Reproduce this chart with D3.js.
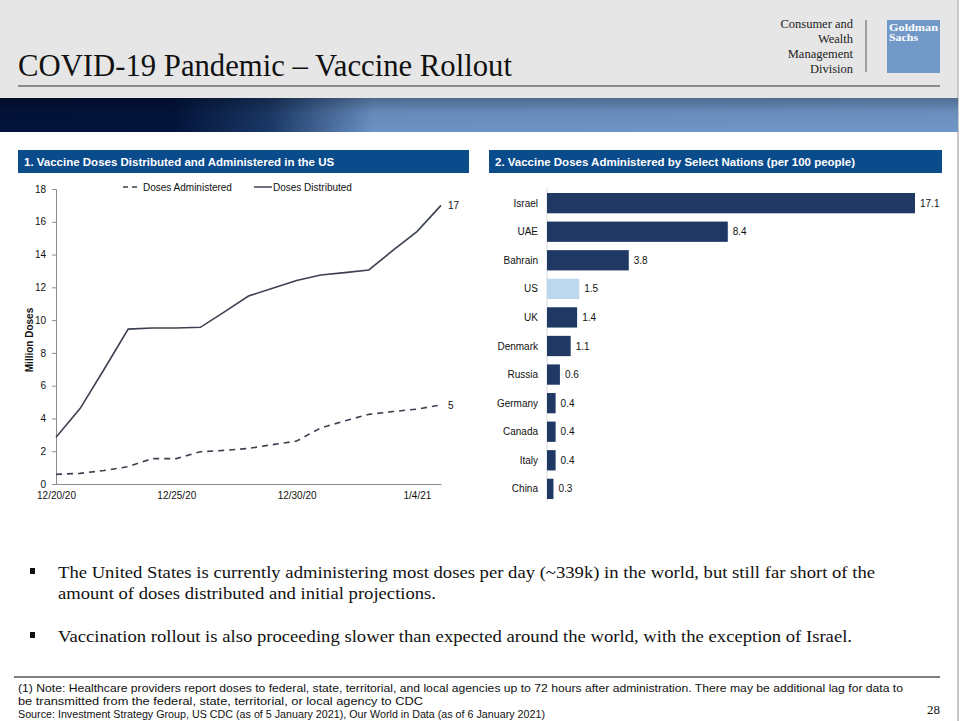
<!DOCTYPE html>
<html>
<head>
<meta charset="utf-8">
<script src="https://cdn.jsdelivr.net/npm/d3@7"></script>
<style>
  body { margin: 0; background: #fff; }
  svg { display: block; }
</style>
</head>
<body>
<svg id="slide" width="963" height="721"></svg>
<script>
// chart 1 data: US doses, millions
const days = ['2020-12-20', '2020-12-21', '2020-12-22', '2020-12-23', '2020-12-24', '2020-12-25',
  '2020-12-26', '2020-12-27', '2020-12-28', '2020-12-29', '2020-12-30', '2020-12-31',
  '2021-01-01', '2021-01-02', '2021-01-03', '2021-01-04', '2021-01-05'];
const distributed = [2.85, 4.6, 7.0, 9.45, 9.52, 9.52, 9.56, 10.5, 11.47, 11.95, 12.42, 12.75,
  12.9, 13.06, 14.25, 15.4, 17.0];
const administered = [0.59, 0.65, 0.82, 1.06, 1.55, 1.55, 1.97, 2.05, 2.17, 2.4, 2.62, 3.42,
  3.85, 4.25, 4.42, 4.57, 4.82];
const xTicks = ['2020-12-20', '2020-12-25', '2020-12-30', '2021-01-04'];
const yTicks = [0, 2, 4, 6, 8, 10, 12, 14, 16, 18];

// chart 2 data: doses per 100 people
const nations = ['Israel', 'UAE', 'Bahrain', 'US', 'UK', 'Denmark', 'Russia', 'Germany', 'Canada', 'Italy', 'China'];
const perHundred = [17.1, 8.4, 3.8, 1.5, 1.4, 1.1, 0.6, 0.4, 0.4, 0.4, 0.3];

const svg = d3.select('#slide');
const serif = '"Liberation Serif", "Times New Roman", serif';
const sans = '"Liberation Sans", Arial, sans-serif';
const narrow = '"Liberation Sans Narrow", "Liberation Sans", Arial, sans-serif';

// ---- header ----
svg.append('rect').attr('x', 0).attr('y', 0).attr('width', 958).attr('height', 98).attr('fill', '#e6e6e6');
svg.append('line').attr('x1', 958).attr('x2', 958).attr('y1', 0).attr('y2', 721)
  .attr('stroke', '#c8c8c8').attr('stroke-width', 2);

const defs = svg.append('defs');
const grad = defs.append('linearGradient').attr('id', 'band').attr('x1', 0).attr('x2', 1).attr('y1', 0).attr('y2', 0);
grad.append('stop').attr('offset', '0%').attr('stop-color', '#03133a');
grad.append('stop').attr('offset', '18%').attr('stop-color', '#03143c');
grad.append('stop').attr('offset', '28%').attr('stop-color', '#1a3866');
grad.append('stop').attr('offset', '34%').attr('stop-color', '#46699a');
grad.append('stop').attr('offset', '39%').attr('stop-color', '#6c92c4');
grad.append('stop').attr('offset', '100%').attr('stop-color', '#7097c8');
const shade = defs.append('linearGradient').attr('id', 'shade').attr('x1', 0).attr('x2', 0).attr('y1', 0).attr('y2', 1);
shade.append('stop').attr('offset', '0%').attr('stop-color', '#000').attr('stop-opacity', 0.28);
shade.append('stop').attr('offset', '45%').attr('stop-color', '#000').attr('stop-opacity', 0.05);
shade.append('stop').attr('offset', '100%').attr('stop-color', '#000').attr('stop-opacity', 0);
svg.append('rect').attr('x', 0).attr('y', 98).attr('width', 958).attr('height', 34).attr('fill', 'url(#band)');
svg.append('rect').attr('x', 0).attr('y', 98).attr('width', 958).attr('height', 34).attr('fill', 'url(#shade)');

svg.append('text').attr('x', 18).attr('y', 76)
  .attr('font-family', serif).attr('font-size', 31).attr('fill', '#111')
  .attr('textLength', 494).attr('lengthAdjust', 'spacingAndGlyphs')
  .text('COVID-19 Pandemic – Vaccine Rollout');
svg.append('line').attr('x1', 18).attr('x2', 940).attr('y1', 86).attr('y2', 86)
  .attr('stroke', '#6b6b6b').attr('stroke-width', 1.5);

const division = ['Consumer and', 'Wealth', 'Management', 'Division'];
svg.append('g').selectAll('text').data(division).join('text')
  .attr('x', 853).attr('y', (d, i) => 28 + i * 15)
  .attr('text-anchor', 'end').attr('font-family', serif).attr('font-size', 12.5).attr('fill', '#222')
  .text(d => d);
svg.append('line').attr('x1', 866).attr('x2', 866).attr('y1', 20).attr('y2', 72)
  .attr('stroke', '#8a8a8a').attr('stroke-width', 1.5);
svg.append('rect').attr('x', 887).attr('y', 20).attr('width', 53).attr('height', 53).attr('fill', '#7399c8');
svg.append('g').selectAll('text').data(['Goldman', 'Sachs']).join('text')
  .attr('x', 889).attr('y', (d, i) => 31 + i * 10)
  .attr('font-family', serif).attr('font-weight', 'bold').attr('font-size', 10).attr('fill', '#fff')
  .attr('textLength', (d, i) => i === 0 ? 49 : 29).attr('lengthAdjust', 'spacingAndGlyphs')
  .text(d => d);

// ---- panel headers ----
const panels = [
  { x: 18, w: 451, title: '1. Vaccine Doses Distributed and Administered in the US' },
  { x: 489, w: 453, title: '2. Vaccine Doses Administered by Select Nations (per 100 people)' }
];
panels.forEach(p => {
  svg.append('rect').attr('x', p.x).attr('y', 150).attr('width', p.w).attr('height', 23).attr('fill', '#0a4b8c');
  svg.append('text').attr('x', p.x + 6).attr('y', 166)
    .attr('font-family', sans).attr('font-weight', 'bold').attr('font-size', 11.5).attr('fill', '#fff')
    .text(p.title);
});

// ---- chart 1: line chart ----
const parse = d3.timeParse('%Y-%m-%d');
const ptsDist = days.map((d, i) => ({ date: parse(d), value: distributed[i] }));
const ptsAdm = days.map((d, i) => ({ date: parse(d), value: administered[i] }));

const x = d3.scaleTime().domain([parse(days[0]), parse(days[days.length - 1])]).range([56, 441]);
const y = d3.scaleLinear().domain([0, 18]).range([484, 189]);

const lineColor = '#3c4150';

const yAxis = svg.append('g').attr('transform', 'translate(56,0)')
  .call(d3.axisLeft(y).tickValues(yTicks).tickSize(4).tickPadding(6));
yAxis.select('.domain').attr('stroke', '#8c8c8c');
yAxis.selectAll('.tick line').attr('stroke', '#8c8c8c');
yAxis.selectAll('text').attr('font-family', sans).attr('font-size', 10).attr('fill', '#111');

const xAxis = svg.append('g').attr('transform', 'translate(0,484)')
  .call(d3.axisBottom(x).tickValues(xTicks.map(parse)).tickSize(0).tickPadding(8)
    .tickFormat(d3.timeFormat('%-m/%-d/%y')));
xAxis.select('.domain').attr('stroke', '#8c8c8c');
xAxis.selectAll('text').attr('font-family', sans).attr('font-size', 10).attr('fill', '#111');

svg.append('text')
  .attr('transform', 'translate(33,340) rotate(-90)')
  .attr('text-anchor', 'middle').attr('font-family', sans).attr('font-weight', 'bold')
  .attr('font-size', 10).attr('fill', '#111')
  .text('Million Doses');

const line = d3.line().x(d => x(d.date)).y(d => y(d.value));
svg.append('path').datum(ptsDist).attr('d', line)
  .attr('fill', 'none').attr('stroke', lineColor).attr('stroke-width', 1.6);
svg.append('path').datum(ptsAdm).attr('d', line)
  .attr('fill', 'none').attr('stroke', lineColor).attr('stroke-width', 1.6).attr('stroke-dasharray', '6,5');

// end labels
const endLabels = [
  { p: ptsDist[ptsDist.length - 1], t: '17' },
  { p: ptsAdm[ptsAdm.length - 1], t: '5' }
];
svg.append('g').selectAll('text').data(endLabels).join('text')
  .attr('x', d => x(d.p.date) + 7).attr('y', d => y(d.p.value) + 4)
  .attr('font-family', sans).attr('font-size', 10).attr('fill', '#111')
  .text(d => d.t);

// legend
const legend = svg.append('g').attr('font-family', sans).attr('font-size', 10).attr('fill', '#111');
legend.append('line').attr('x1', 123).attr('x2', 139).attr('y1', 187).attr('y2', 187)
  .attr('stroke', lineColor).attr('stroke-width', 1.5).attr('stroke-dasharray', '5,4');
legend.append('text').attr('x', 143).attr('y', 191).text('Doses Administered');
legend.append('line').attr('x1', 254).attr('x2', 272).attr('y1', 187).attr('y2', 187)
  .attr('stroke', lineColor).attr('stroke-width', 1.5);
legend.append('text').attr('x', 273).attr('y', 191).text('Doses Distributed');

// ---- chart 2: horizontal bars ----
const bx = d3.scaleLinear().domain([0, 17.1]).range([547, 915]);
const by = d3.scaleBand().domain(nations).range([189, 503]).paddingInner(0.29).paddingOuter(0.14);

svg.append('line').attr('x1', 547).attr('x2', 547).attr('y1', 188).attr('y2', 502)
  .attr('stroke', '#d9d9d9').attr('stroke-width', 1);

const bars = svg.append('g');
bars.selectAll('rect').data(nations).join('rect')
  .attr('x', bx(0)).attr('y', d => by(d))
  .attr('width', (d, i) => bx(perHundred[i]) - bx(0)).attr('height', by.bandwidth())
  .attr('fill', d => d === 'US' ? '#bdd7ee' : '#1f3864');

bars.selectAll('text.val').data(nations).join('text').attr('class', 'val')
  .attr('x', (d, i) => bx(perHundred[i]) + 5).attr('y', d => by(d) + by.bandwidth() / 2 + 3.5)
  .attr('font-family', sans).attr('font-size', 10).attr('fill', '#111')
  .text((d, i) => perHundred[i].toFixed(1));

bars.selectAll('text.cat').data(nations).join('text').attr('class', 'cat')
  .attr('x', 538).attr('y', d => by(d) + by.bandwidth() / 2 + 3.5)
  .attr('text-anchor', 'end').attr('font-family', sans).attr('font-size', 10).attr('fill', '#111')
  .text(d => d);

// ---- bullets ----
const bullets = [
  { y: 578, t: 'The United States is currently administering most doses per day (~339k) in the world, but still far short of the', w: 817, b: true },
  { y: 599, t: 'amount of doses distributed and initial projections.', w: 378, b: false },
  { y: 642, t: 'Vaccination rollout is also proceeding slower than expected around the world, with the exception of Israel.', w: 794, b: true }
];
const bl = svg.append('g').attr('font-family', serif).attr('font-size', 17).attr('fill', '#111');
bullets.forEach(d => {
  if (d.b) bl.append('rect').attr('x', 30).attr('y', d.y - 10).attr('width', 5).attr('height', 6).attr('fill', '#111');
  bl.append('text').attr('x', 58).attr('y', d.y)
    .attr('textLength', d.w).attr('lengthAdjust', 'spacingAndGlyphs').text(d.t);
});

// ---- footnote ----
svg.append('line').attr('x1', 14).attr('x2', 940).attr('y1', 677).attr('y2', 677)
  .attr('stroke', '#555').attr('stroke-width', 1.5);
const notes = [
  { y: 692, t: '(1) Note:  Healthcare providers report doses to federal, state, territorial, and local agencies up to 72 hours after administration. There may be additional lag for data to', w: 885 },
  { y: 705, t: 'be transmitted from the federal, state, territorial, or local agency to CDC', w: 405 },
  { y: 718, t: 'Source: Investment Strategy Group, US CDC (as of 5 January 2021), Our World in Data (as of 6 January 2021)', w: 527 }
];
svg.append('g').selectAll('text').data(notes).join('text')
  .attr('x', 18).attr('y', d => d.y)
  .attr('font-family', narrow).attr('font-size', 10.5).attr('fill', '#111')
  .attr('textLength', d => d.w).attr('lengthAdjust', 'spacingAndGlyphs')
  .text(d => d.t);

svg.append('text').attr('x', 940).attr('y', 714).attr('text-anchor', 'end')
  .attr('font-family', serif).attr('font-size', 13).attr('fill', '#111').text('28');
</script>
</body>
</html>
